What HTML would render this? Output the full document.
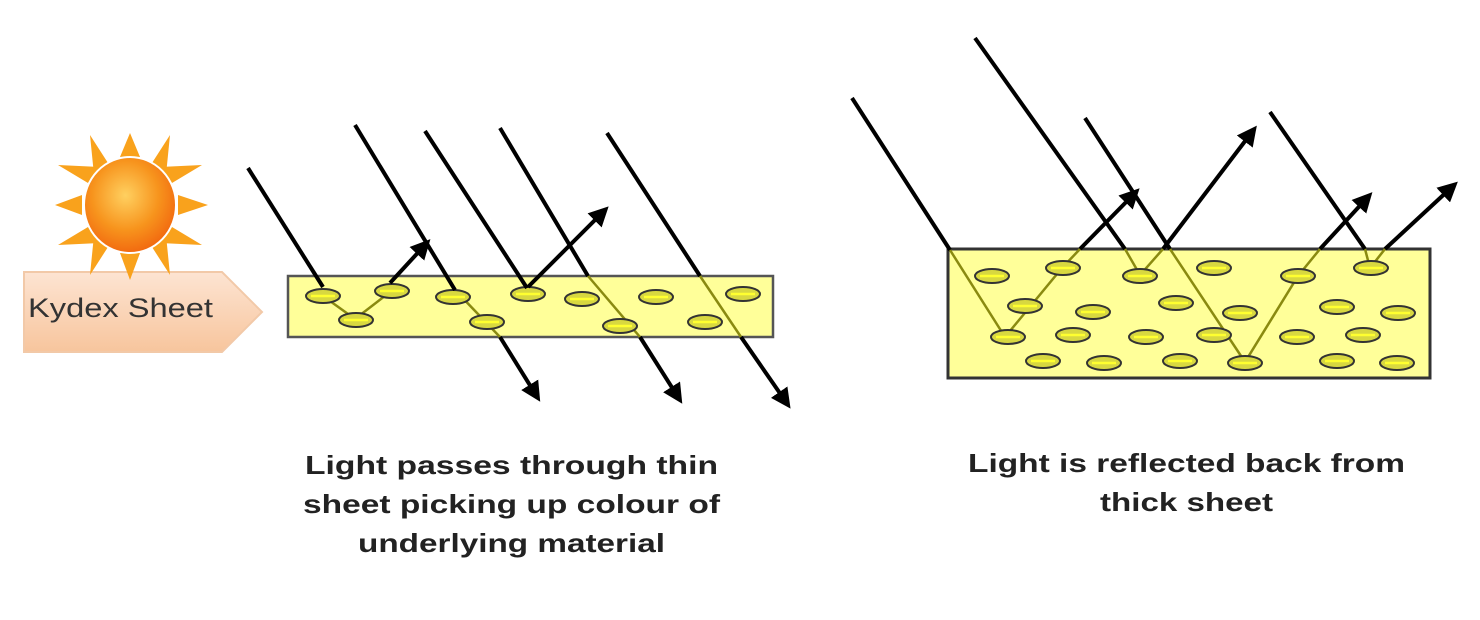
<!DOCTYPE html>
<html><head><style>body{margin:0;background:#fff}svg{display:block}</style></head><body>
<svg width="1480" height="620" viewBox="0 0 1480 620" xmlns="http://www.w3.org/2000/svg">
<defs>
<radialGradient id="sun" cx="0.45" cy="0.4" r="0.6"><stop offset="0" stop-color="#ffd060"/><stop offset="0.6" stop-color="#f7941d"/><stop offset="1" stop-color="#f26a10"/></radialGradient>
<linearGradient id="arr" x1="0" y1="0" x2="0" y2="1"><stop offset="0" stop-color="#fde4d2"/><stop offset="1" stop-color="#f7c59d"/></linearGradient>
<marker id="ah" markerWidth="5" markerHeight="5" refX="3" refY="2.5" orient="auto" markerUnits="strokeWidth"><path d="M0,0 L5,2.5 L0,5 z" fill="#000"/></marker>
<g id="el"><ellipse rx="17" ry="7" fill="#d8d840" stroke="#333" stroke-width="2"/><line x1="-12" y1="0" x2="12" y2="0" stroke="#ffff30" stroke-width="2.5"/></g>
</defs>
<path d="M24,272 L222,272 L262,312 L222,352 L24,352 Z" fill="url(#arr)" stroke="#f2c9a8" stroke-width="2"/>
<text x="28" y="317" font-family="Liberation Sans, sans-serif" font-size="27" fill="#333" textLength="185" lengthAdjust="spacingAndGlyphs">Kydex Sheet</text>
<g transform="translate(130,205)">
<g fill="#f9a21c">
<polygon points="-10,-48 0,-72 10,-48"/><polygon points="-10,48 0,75 10,48"/>
<polygon points="-48,-10 -75,0 -48,10"/><polygon points="48,-10 78,0 48,10"/>
<polygon points="-42,-22 -72,-40 -30,-38"/><polygon points="42,-22 72,-40 30,-38"/>
<polygon points="-42,22 -72,40 -30,38"/><polygon points="42,22 72,40 30,38"/>
<polygon points="-22,-42 -40,-70 -36,-30"/><polygon points="22,-42 40,-70 36,-30"/>
<polygon points="-22,42 -40,70 -36,30"/><polygon points="22,42 40,70 36,30"/>
</g>
<ellipse rx="46" ry="48" fill="url(#sun)" stroke="#fff" stroke-width="2"/>
</g>
<rect x="288" y="276" width="485" height="61" fill="#ffff99" stroke="#555" stroke-width="2.5"/>
<g stroke="#8a8a10" stroke-width="2.5" fill="none">
<line x1="323" y1="296" x2="355" y2="319"/><line x1="355" y1="319" x2="390" y2="292"/>
<line x1="455" y1="290" x2="500" y2="337"/><line x1="588" y1="276" x2="640" y2="337"/><line x1="700" y1="276" x2="741" y2="337"/>
</g>
<g>
<use href="#el" x="323" y="296"/><use href="#el" x="392" y="291"/><use href="#el" x="453" y="297"/><use href="#el" x="528" y="294"/><use href="#el" x="582" y="299"/><use href="#el" x="656" y="297"/><use href="#el" x="743" y="294"/>
<use href="#el" x="356" y="320"/><use href="#el" x="487" y="322"/><use href="#el" x="620" y="326"/><use href="#el" x="705" y="322"/>
</g>
<g stroke="#000" stroke-width="4" fill="none">
<line x1="248" y1="168" x2="323" y2="287"/>
<line x1="355" y1="125" x2="455" y2="290"/><line x1="500" y1="337" x2="536" y2="395" marker-end="url(#ah)"/>
<line x1="425" y1="131" x2="527" y2="288"/>
<line x1="500" y1="128" x2="588" y2="276"/><line x1="640" y1="337" x2="678" y2="397" marker-end="url(#ah)"/>
<line x1="607" y1="133" x2="700" y2="276"/><line x1="741" y1="337" x2="786" y2="402" marker-end="url(#ah)"/>
<line x1="390" y1="283" x2="425" y2="245" marker-end="url(#ah)"/>
<line x1="528" y1="287" x2="603" y2="212" marker-end="url(#ah)"/>
</g>
<rect x="948" y="249" width="482" height="129" fill="#ffff99" stroke="#333" stroke-width="3"/>
<g stroke="#8a8a10" stroke-width="2.5" fill="none">
<polyline points="950,250 1005,337 1062,268 1080,249"/>
<polyline points="1125,249 1140,275 1163,249"/>
<polyline points="1170,249 1245,362 1298,276 1320,249"/>
<polyline points="1365,249 1370,268 1385,249"/>
</g>
<g>
<use href="#el" x="992" y="276"/><use href="#el" x="1063" y="268"/><use href="#el" x="1140" y="276"/><use href="#el" x="1214" y="268"/><use href="#el" x="1298" y="276"/><use href="#el" x="1371" y="268"/>
<use href="#el" x="1025" y="306"/><use href="#el" x="1093" y="312"/><use href="#el" x="1176" y="303"/><use href="#el" x="1240" y="313"/><use href="#el" x="1337" y="307"/><use href="#el" x="1398" y="313"/>
<use href="#el" x="1008" y="337"/><use href="#el" x="1073" y="335"/><use href="#el" x="1146" y="337"/><use href="#el" x="1214" y="335"/><use href="#el" x="1297" y="337"/><use href="#el" x="1363" y="335"/>
<use href="#el" x="1043" y="361"/><use href="#el" x="1104" y="363"/><use href="#el" x="1180" y="361"/><use href="#el" x="1245" y="363"/><use href="#el" x="1337" y="361"/><use href="#el" x="1397" y="363"/>
</g>
<g stroke="#000" stroke-width="4" fill="none">
<line x1="852" y1="98" x2="950" y2="250"/>
<line x1="975" y1="38" x2="1125" y2="249"/>
<line x1="1085" y1="118" x2="1170" y2="249"/>
<line x1="1270" y1="112" x2="1365" y2="249"/>
<line x1="1080" y1="249" x2="1134" y2="194" marker-end="url(#ah)"/>
<line x1="1163" y1="249" x2="1252" y2="132" marker-end="url(#ah)"/>
<line x1="1320" y1="249" x2="1367" y2="198" marker-end="url(#ah)"/>
<line x1="1385" y1="249" x2="1452" y2="187" marker-end="url(#ah)"/>
</g>
<g font-family="Liberation Sans, sans-serif" font-size="26" font-weight="bold" fill="#222" lengthAdjust="spacingAndGlyphs">
<text x="305" y="474" textLength="413" lengthAdjust="spacingAndGlyphs">Light passes through thin</text>
<text x="303" y="513" textLength="417" lengthAdjust="spacingAndGlyphs">sheet picking up colour of</text>
<text x="358" y="552" textLength="307" lengthAdjust="spacingAndGlyphs">underlying material</text>
<text x="968" y="472" textLength="437" lengthAdjust="spacingAndGlyphs">Light is reflected back from</text>
<text x="1100" y="511" textLength="173" lengthAdjust="spacingAndGlyphs">thick sheet</text>
</g>
</svg>
</body></html>
